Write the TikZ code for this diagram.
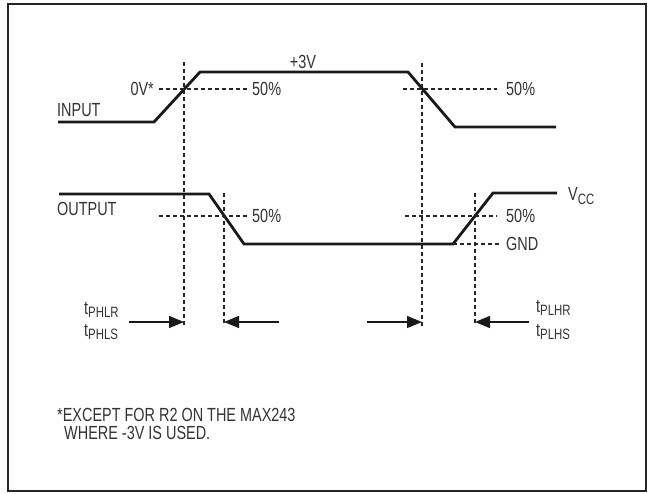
\documentclass[tikz,border=0pt]{standalone}
\usepackage{fontspec}
\setmainfont{Liberation Sans}[FakeStretch=0.76]
\usetikzlibrary{arrows.meta}
\newcommand{\mysub}[1]{\raisebox{-0.35ex}{\fontsize{15}{15}\selectfont #1}}
\tikzset{
  wave/.style={line width=2.8pt, line cap=butt, line join=miter, color=black!90},
  guide/.style={line width=1.1pt, dash pattern=on 4pt off 3pt, color=black!85},
  lbl/.style={font=\fontsize{19}{21}\selectfont, text=black!80, inner sep=0pt},
  tarrow/.style={line width=1.4pt, color=black!90, -{Triangle[length=15pt,width=12pt]}},
  frame/.style={line width=2pt, color=black!85}
}
\begin{document}
\begin{tikzpicture}[x=1pt,y=-1pt]
\useasboundingbox (0,0) rectangle (650,493);
\draw[frame] (8,4) rectangle (646,491);

% input waveform coordinates
\coordinate (i0) at (58,122);
\coordinate (i1) at (154,122);
\coordinate (i2) at (200,72);
\coordinate (i3) at (408,72);
\coordinate (i4) at (455,127);
\coordinate (i5) at (556,127);
\draw[wave] (i0) -- (i1) -- (i2) -- (i3) -- (i4) -- (i5);

% output waveform
\coordinate (o0) at (59,194);
\coordinate (o1) at (209,194);
\coordinate (o2) at (244,244);
\coordinate (o3) at (453,244);
\coordinate (o4) at (493,193);
\coordinate (o5) at (557,193);
\draw[wave] (o0) -- (o1) -- (o2) -- (o3) -- (o4) -- (o5);

% vertical guides
\coordinate (va1) at (184,62);  \coordinate (vb1) at (184,326);
\coordinate (va2) at (224,193); \coordinate (vb2) at (224,326);
\coordinate (va3) at (422,63);  \coordinate (vb3) at (422,326);
\coordinate (va4) at (475,193); \coordinate (vb4) at (475,326);
\draw[guide] (va1) -- (vb1);
\draw[guide] (va2) -- (vb2);
\draw[guide] (va3) -- (vb3);
\draw[guide] (va4) -- (vb4);

% horizontal guides
\coordinate (h1a) at (159,89);  \coordinate (h1b) at (248,89);
\coordinate (h2a) at (403,89);  \coordinate (h2b) at (497,89);
\coordinate (h3a) at (159,216); \coordinate (h3b) at (248,216);
\coordinate (h4a) at (405,216); \coordinate (h4b) at (497,216);
\coordinate (h5a) at (453,244); \coordinate (h5b) at (500,244);
\draw[guide] (h1a) -- (h1b);
\draw[guide] (h2a) -- (h2b);
\draw[guide] (h3a) -- (h3b);
\draw[guide] (h4a) -- (h4b);
\draw[guide] (h5a) -- (h5b);

% labels
\node[lbl] (p3v) at (303,62) {+3V};
\node[lbl, anchor=east] (zv) at (154,89) {0V*};
\node[lbl, anchor=west] (pa) at (252,89) {50\%};
\node[lbl, anchor=west] (pb) at (506,89) {50\%};
\node[lbl, anchor=west] (inp) at (57,110) {INPUT};
\node[lbl, anchor=west] (outp) at (57,209) {OUTPUT};
\node[lbl, anchor=west] (pc) at (252,216) {50\%};
\node[lbl, anchor=west] (pd) at (506,216) {50\%};
\node[lbl, anchor=west] (gnd) at (506,244) {GND};
\node[lbl, anchor=west] (vcc) at (568,196) {V\mysub{CC}};

\node[lbl, anchor=west] (t1) at (84,310) {t\mysub{PHLR}};
\node[lbl, anchor=west] (t2) at (84,332) {t\mysub{PHLS}};
\node[lbl, anchor=west] (t3) at (536,308) {t\mysub{PLHR}};
\node[lbl, anchor=west] (t4) at (536,332) {t\mysub{PLHS}};

% arrows
\coordinate (a1s) at (129,322); \coordinate (a1e) at (184,322);
\coordinate (a2s) at (279,322); \coordinate (a2e) at (224,322);
\coordinate (a3s) at (367,322); \coordinate (a3e) at (422,322);
\coordinate (a4s) at (529,322); \coordinate (a4e) at (475,322);
\draw[tarrow] (a1s) -- (a1e);
\draw[tarrow] (a2s) -- (a2e);
\draw[tarrow] (a3s) -- (a3e);
\draw[tarrow] (a4s) -- (a4e);

% footnote
\node[lbl, anchor=west] (f1) at (57,415) {*EXCEPT FOR R2 ON THE MAX243};
\node[lbl, anchor=west] (f2) at (64,433) {WHERE -3V IS USED.};
\end{tikzpicture}
\end{document}
